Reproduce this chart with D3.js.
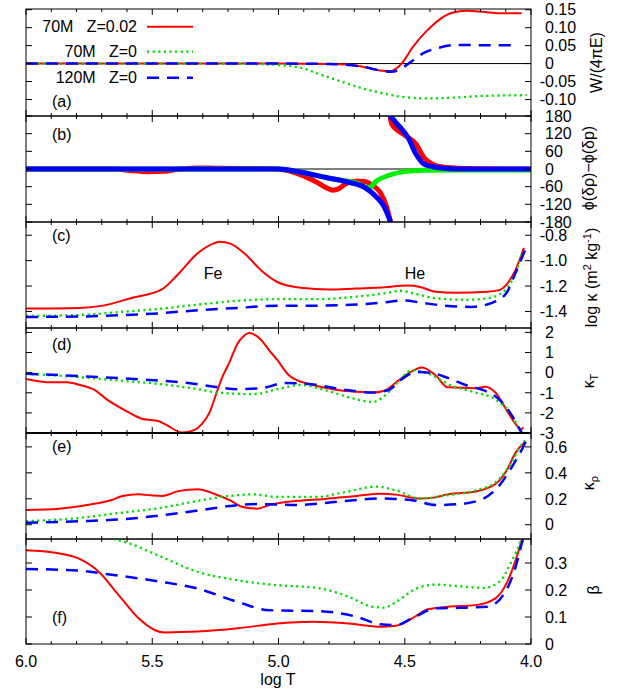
<!DOCTYPE html>
<html lang="en">
<head>
  <meta charset="UTF-8">
  <title>Chart</title>
  <style>
    body, html {
      margin: 0;
      padding: 0;
      background-color: white;
    }
    svg text {
      font-family: 'Liberation Sans', Arial, Helvetica, sans-serif;
      font-size: 16px;
      fill: black;
      white-space: pre;
    }
  </style>
</head>
<body>
  <svg id="svg" width="620" height="689"></svg>
  <script src="https://d3js.org/d3.v7.min.js"></script>
  <script>
    // ---- data, [log T, value] ----
    // (a) W/(4 pi E)
    const wRed = [[6.0,0],[5.5,0],[5.0,0],[4.8,-0.001],[4.717,-0.003],[4.651,-0.011],[4.598,-0.019],[4.558,-0.021],[4.532,-0.013],[4.507,0.005],[4.467,0.047],[4.413,0.091],[4.36,0.124],[4.309,0.142],[4.255,0.147],[4.19,0.144],[4.123,0.14],[4.037,0.14]]
    const wGreen = [[6.0,0],[5.2,0],[5.1,-0.001],[5.0,-0.004],[4.915,-0.011],[4.836,-0.03],[4.756,-0.049],[4.677,-0.067],[4.598,-0.081],[4.519,-0.092],[4.413,-0.097],[4.309,-0.095],[4.19,-0.09],[4.017,-0.088]]
    const wBlue = [[6.0,0],[5.0,0],[4.8,-0.001],[4.717,-0.004],[4.651,-0.011],[4.598,-0.019],[4.554,-0.023],[4.519,-0.016],[4.479,0.003],[4.426,0.029],[4.36,0.045],[4.294,0.052],[4.19,0.051],[4.057,0.051]]

    // (b) phase difference, split where it wraps at +-180
    const phiRedLow = [[6.0,0],[5.65,0],[5.59,-5],[5.52,-9],[5.45,-8],[5.40,-1],[5.29,3],[5.13,2],[5.005,0],[4.911,-20],[4.848,-45],[4.80,-68],[4.785,-72],[4.76,-66],[4.738,-52],[4.70,-42],[4.67,-42],[4.628,-55],[4.597,-80],[4.573,-125],[4.557,-178]]
    const phiRedHigh = [[4.557,172],[4.55,150],[4.534,135],[4.50,115],[4.487,107],[4.455,84],[4.424,39],[4.392,17],[4.345,6],[4.22,1],[4.0,0]]
    const phiGreen = [[6.0,0],[5.0,0],[4.911,-11],[4.785,-34],[4.691,-48],[4.644,-64],[4.612,-41],[4.565,-22],[4.502,-9],[4.424,-4],[4.298,-3],[4.0,-3]]
    const phiBlueLow = [[6.0,0],[5.0,0],[4.911,-11],[4.816,-28],[4.722,-45],[4.66,-62],[4.612,-95],[4.581,-129],[4.557,-178]]
    const phiBlueHigh = [[4.557,180],[4.534,157],[4.487,107],[4.455,50],[4.424,17],[4.377,6],[4.298,0],[4.0,0]]

    // (c) log kappa
    const kapRed = [[6.0,-1.377],[5.79,-1.372],[5.695,-1.354],[5.586,-1.296],[5.46,-1.224],[5.397,-1.105],[5.319,-0.94],[5.256,-0.864],[5.232,-0.851],[5.193,-0.864],[5.13,-0.952],[5.067,-1.08],[5.005,-1.168],[4.911,-1.214],[4.801,-1.227],[4.691,-1.219],[4.597,-1.212],[4.487,-1.196],[4.44,-1.207],[4.377,-1.245],[4.298,-1.252],[4.173,-1.245],[4.126,-1.232],[4.094,-1.181],[4.063,-1.08],[4.028,-0.90]]
    const kapGreen = [[6.0,-1.435],[5.79,-1.428],[5.633,-1.405],[5.476,-1.38],[5.319,-1.346],[5.162,-1.316],[5.005,-1.303],[4.848,-1.303],[4.691,-1.283],[4.565,-1.252],[4.518,-1.237],[4.455,-1.263],[4.377,-1.296],[4.251,-1.308],[4.173,-1.296],[4.11,-1.245],[4.063,-1.105],[4.035,-0.94]]
    const kapBlue = [[6.0,-1.443],[5.79,-1.44],[5.633,-1.43],[5.476,-1.415],[5.319,-1.39],[5.162,-1.372],[5.005,-1.354],[4.848,-1.354],[4.691,-1.346],[4.581,-1.329],[4.502,-1.313],[4.44,-1.329],[4.345,-1.354],[4.236,-1.364],[4.141,-1.32],[4.094,-1.245],[4.063,-1.105],[4.024,-0.92]]

    // (d) kappa_T
    const kTRed = [[6.0,-0.31],[5.9,-0.48],[5.837,-0.48],[5.79,-0.6],[5.727,-0.87],[5.68,-1.33],[5.601,-1.92],[5.538,-2.3],[5.476,-2.4],[5.444,-2.6],[5.381,-2.98],[5.334,-2.86],[5.303,-2.55],[5.272,-1.95],[5.248,-1.1],[5.225,-0.3],[5.193,0.55],[5.162,1.45],[5.135,1.85],[5.115,1.99],[5.09,1.85],[5.067,1.6],[5.036,1.1],[5.005,0.63],[4.958,-0.14],[4.926,-0.38],[4.879,-0.56],[4.785,-0.82],[4.691,-0.95],[4.628,-0.99],[4.581,-0.9],[4.534,-0.48],[4.487,-0.05],[4.432,0.26],[4.377,-0.14],[4.33,-0.73],[4.22,-0.77],[4.181,-0.7],[4.141,-0.99],[4.094,-1.92],[4.063,-2.52],[4.039,-2.82],[4.03,-2.72]]
    const kTGreen = [[6.0,-0.05],[5.79,-0.22],[5.633,-0.39],[5.476,-0.56],[5.319,-0.82],[5.24,-0.99],[5.099,-1.07],[5.005,-0.82],[4.911,-0.61],[4.816,-0.87],[4.691,-1.33],[4.628,-1.46],[4.581,-1.16],[4.534,-0.56],[4.471,0.12],[4.424,0.03],[4.377,-0.22],[4.33,-0.56],[4.22,-0.99],[4.141,-1.33],[4.078,-2.09],[4.047,-2.77],[4.031,-3.05]]
    const kTBlue = [[6.0,-0.05],[5.79,-0.17],[5.633,-0.27],[5.476,-0.39],[5.35,-0.53],[5.24,-0.73],[5.162,-0.82],[5.067,-0.77],[4.973,-0.51],[4.879,-0.56],[4.754,-0.82],[4.628,-0.99],[4.565,-0.87],[4.518,-0.39],[4.455,0.03],[4.392,-0.02],[4.33,-0.26],[4.251,-0.65],[4.188,-0.87],[4.126,-1.33],[4.078,-2.09],[4.047,-2.77],[4.035,-3.05]]

    // (e) kappa_rho
    const kRRed = [[6.0,0.114],[5.868,0.124],[5.758,0.152],[5.664,0.189],[5.617,0.222],[5.554,0.234],[5.507,0.227],[5.46,0.222],[5.397,0.259],[5.319,0.274],[5.256,0.239],[5.193,0.189],[5.146,0.139],[5.083,0.124],[5.036,0.152],[4.926,0.184],[4.816,0.199],[4.691,0.222],[4.597,0.239],[4.534,0.232],[4.44,0.202],[4.392,0.207],[4.33,0.234],[4.22,0.256],[4.141,0.314],[4.094,0.426],[4.063,0.55],[4.024,0.637]]
    const kRGreen = [[6.0,0.027],[5.79,0.052],[5.633,0.09],[5.476,0.127],[5.319,0.184],[5.193,0.222],[5.099,0.234],[5.005,0.214],[4.848,0.214],[4.738,0.251],[4.612,0.294],[4.534,0.264],[4.44,0.202],[4.33,0.227],[4.22,0.264],[4.141,0.326],[4.078,0.476],[4.047,0.588],[4.024,0.65]]
    const kRBlue = [[6.0,0.015],[5.79,0.027],[5.633,0.04],[5.444,0.077],[5.319,0.109],[5.193,0.144],[5.083,0.159],[4.926,0.152],[4.769,0.177],[4.597,0.202],[4.471,0.189],[4.377,0.152],[4.283,0.159],[4.188,0.202],[4.126,0.301],[4.078,0.438],[4.031,0.6],[4.016,0.662]]

    // (f) beta
    const betaRed = [[6.0,0.347],[5.884,0.338],[5.79,0.316],[5.711,0.267],[5.633,0.181],[5.554,0.095],[5.491,0.052],[5.452,0.043],[5.319,0.046],[5.162,0.058],[5.005,0.076],[4.863,0.082],[4.722,0.076],[4.597,0.064],[4.534,0.068],[4.471,0.095],[4.408,0.129],[4.33,0.138],[4.22,0.144],[4.141,0.169],[4.094,0.23],[4.063,0.304],[4.035,0.39],[4.025,0.42]]
    const betaGreen = [[6.0,0.46],[5.8,0.43],[5.656,0.39],[5.586,0.371],[5.476,0.328],[5.319,0.267],[5.162,0.236],[5.005,0.218],[4.848,0.208],[4.722,0.175],[4.628,0.138],[4.581,0.135],[4.534,0.156],[4.455,0.205],[4.377,0.22],[4.298,0.215],[4.188,0.208],[4.126,0.23],[4.078,0.304],[4.039,0.39],[4.03,0.42]]
    const betaBlue = [[6.0,0.278],[5.79,0.272],[5.695,0.261],[5.476,0.232],[5.319,0.205],[5.162,0.156],[5.036,0.125],[4.848,0.122],[4.691,0.101],[4.597,0.073],[4.534,0.07],[4.471,0.095],[4.377,0.132],[4.283,0.134],[4.173,0.138],[4.11,0.181],[4.063,0.279],[4.031,0.39],[4.02,0.42]]

    // tick labels
    const xTickLabels = ['6.0', '5.5', '5.0', '4.5', '4.0']
    const wTicks = ['0.15', '0.10', '0.05', '0', '-0.05', '-0.10']
    const phiTicks = ['180', '120', '60', '0', '-60', '-120', '-180']
    const kapTicks = ['-0.8', '-1.0', '-1.2', '-1.4']
    const kTTicks = ['2', '1', '0', '-1', '-2', '-3']
    const kRTicks = ['0.6', '0.4', '0.2', '0']
    const betaTicks = ['0.3', '0.2', '0.1', '0']
    const legendNames = ['70M   Z=0.02', '70M   Z=0', '120M   Z=0']

    const red = { stroke: '#ff0000', width: 2, dash: null }
    const green = { stroke: '#00dd00', width: 2.3, dash: '2.2,3.4' }
    const blue = { stroke: '#0000ff', width: 2.5, dash: '12,8' }
    const fat = c => ({ stroke: c, width: 5, dash: null, round: true })

    const panels = [
      { top: 9, bottom: 116, domain: [-0.146, 0.152], ticks: wTicks, tag: '(a)', tagY: 107, zero: true,
        lines: [[wRed, red], [wGreen, green], [wBlue, blue]] },
      { top: 116, bottom: 222, domain: [-180, 180], ticks: phiTicks, tag: '(b)', tagY: 140, zero: true,
        lines: [[phiRedLow, fat('#ff0000')], [phiRedHigh, fat('#ff0000')], [phiGreen, fat('#00ee00')],
                [phiBlueLow, fat('#0000ff')], [phiBlueHigh, fat('#0000ff')]] },
      { top: 222, bottom: 328, domain: [-1.53, -0.696], ticks: kapTicks, tag: '(c)', tagY: 241,
        lines: [[kapRed, red], [kapGreen, green], [kapBlue, blue]] },
      { top: 328, bottom: 433, domain: [-3, 2.22], ticks: kTTicks, tag: '(d)', tagY: 350,
        lines: [[kTRed, red], [kTGreen, green], [kTBlue, blue]] },
      { top: 433, bottom: 539, domain: [-0.11, 0.707], ticks: kRTicks, tag: '(e)', tagY: 452,
        lines: [[kRRed, red], [kRGreen, green], [kRBlue, blue]] },
      { top: 539, bottom: 644, domain: [0, 0.389], ticks: betaTicks, tag: '(f)', tagY: 623,
        lines: [[betaRed, red], [betaGreen, green], [betaBlue, blue]] }
    ]

    const svg = d3.select('#svg')
    const xScale = d3.scaleLinear().domain([6, 4]).range([26, 531])
    const defs = svg.append('defs')
    const majorX = d3.range(6, 3.99, -0.5)
    const minorX = d3.range(0, 21).map(i => 6 - i * 0.1)

    panels.forEach((p, i) => {
      const yScale = d3.scaleLinear().domain(p.domain).range([p.bottom, p.top])
      defs.append('clipPath').attr('id', 'clip' + i)
        .append('rect')
        .attr('x', 26).attr('y', p.top).attr('width', 505).attr('height', p.bottom - p.top)

      const g = svg.append('g').attr('clip-path', `url(#clip${i})`)
      if (p.zero) {
        g.append('line')
          .attr('x1', 26).attr('x2', 531)
          .attr('y1', yScale(0)).attr('y2', yScale(0))
          .attr('stroke', 'black').attr('stroke-width', 1)
      }
      const line = d3.line()
        .x(d => xScale(d[0]))
        .y(d => yScale(d[1]))
        .curve(d3.curveMonotoneX)
      p.lines.forEach(([data, st]) => {
        g.append('path')
          .attr('d', line(data))
          .attr('fill', 'none')
          .attr('stroke', st.stroke)
          .attr('stroke-width', st.width)
          .attr('stroke-dasharray', st.dash)
          .attr('stroke-linecap', st.round ? 'round' : 'butt')
          .attr('stroke-linejoin', 'round')
      })

      // frame
      svg.append('rect')
        .attr('x', 26).attr('y', p.top)
        .attr('width', 505).attr('height', p.bottom - p.top)
        .attr('fill', 'none').attr('stroke', 'black').attr('stroke-width', 1)

      // x ticks on top and bottom, pointing in
      minorX.forEach(v => {
        const major = majorX.some(m => Math.abs(m - v) < 1e-6)
        const len = major ? 6 : 3
        svg.append('line')
          .attr('x1', xScale(v)).attr('x2', xScale(v))
          .attr('y1', p.bottom).attr('y2', p.bottom - len)
          .attr('stroke', 'black')
        svg.append('line')
          .attr('x1', xScale(v)).attr('x2', xScale(v))
          .attr('y1', p.top).attr('y2', p.top + len)
          .attr('stroke', 'black')
      })

      // y ticks both sides + labels on the right
      p.ticks.forEach(lab => {
        const v = +lab
        const yy = yScale(v)
        svg.append('line').attr('x1', 26).attr('x2', 32).attr('y1', yy).attr('y2', yy).attr('stroke', 'black')
        svg.append('line').attr('x1', 531).attr('x2', 525).attr('y1', yy).attr('y2', yy).attr('stroke', 'black')
        svg.append('text')
          .attr('x', lab.startsWith('-') ? 539.7 : 545)
          .attr('y', yy)
          .attr('dy', '0.36em')
          .text(lab)
      })

      svg.append('text')
        .attr('x', 52).attr('y', p.tagY)
        .text(p.tag)
    })

    // thicker join between (d) and (e)
    svg.append('line')
      .attr('x1', 26).attr('x2', 531).attr('y1', 433).attr('y2', 433)
      .attr('stroke', 'black').attr('stroke-width', 2)

    // x tick labels and title
    xTickLabels.forEach(lab => {
      svg.append('text')
        .attr('x', xScale(+lab)).attr('y', 667)
        .attr('text-anchor', 'middle')
        .text(lab)
    })
    svg.append('text')
      .attr('x', 278).attr('y', 685)
      .attr('text-anchor', 'middle')
      .text('log T')

    // Fe / He marks in (c)
    svg.append('text').attr('x', 213).attr('y', 279).attr('text-anchor', 'middle').text('Fe')
    svg.append('text').attr('x', 415).attr('y', 279).attr('text-anchor', 'middle').text('He')

    // legend in (a)
    const legendStyles = [red, green, blue]
    legendNames.forEach((name, i) => {
      const yy = [26.7, 51.7, 77.7][i]
      svg.append('text')
        .attr('x', 137).attr('y', yy)
        .attr('dy', '0.36em')
        .attr('text-anchor', 'end')
        .text(name)
      svg.append('line')
        .attr('x1', 147).attr('x2', 193)
        .attr('y1', yy).attr('y2', yy)
        .attr('stroke', legendStyles[i].stroke)
        .attr('stroke-width', legendStyles[i].width)
        .attr('stroke-dasharray', legendStyles[i].dash)
    })

    // right-hand axis titles
    const rotLabel = (x, y) => svg.append('text')
      .attr('transform', `translate(${x},${y}) rotate(-90)`)
      .attr('text-anchor', 'middle')

    rotLabel(602, 62.5).text('W/(4πE)')
    rotLabel(594, 168).text('ϕ(δρ)−ϕ(δp)')
    const kapLab = rotLabel(597, 277.5)
    kapLab.append('tspan').text('log κ (m')
    kapLab.append('tspan').attr('dy', -6).style('font-size', '11px').text('2')
    kapLab.append('tspan').attr('dy', 6).text(' kg')
    kapLab.append('tspan').attr('dy', -6).style('font-size', '11px').text('-1')
    kapLab.append('tspan').attr('dy', 6).text(')')
    const kTLab = rotLabel(594, 381)
    kTLab.append('tspan').text('κ')
    kTLab.append('tspan').attr('dy', 4).style('font-size', '11px').text('T')
    const kRLab = rotLabel(594, 483)
    kRLab.append('tspan').text('κ')
    kRLab.append('tspan').attr('dy', 4).style('font-size', '11px').text('ρ')
    rotLabel(599, 590).text('β')
  </script>
</body>
</html>
